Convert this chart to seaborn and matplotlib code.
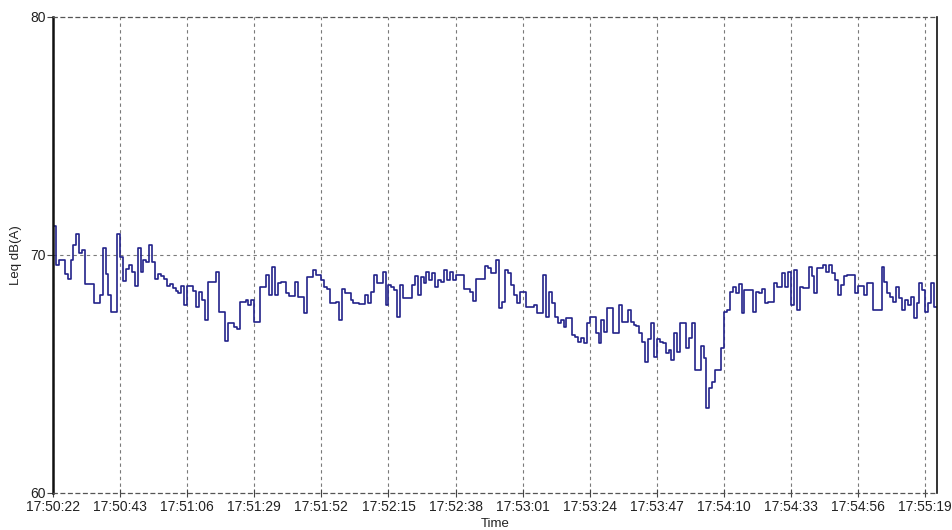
import numpy as np
import pandas as pd
import matplotlib
matplotlib.use("Agg")
import matplotlib.pyplot as plt
import seaborn as sns

# Logged Leq levels as steps: level in dB(A) and how many 1-second samples it holds
level_db = [
    71.2, 69.6, 69.8, 69.2, 69.0, 69.8, 70.4, 70.9, 70.1, 70.2, 68.8, 68.0, 68.3, 70.3,
    69.2, 68.3, 67.6, 70.9, 69.9, 68.9, 69.4, 69.6, 69.3, 68.7, 70.3, 69.3, 69.8, 69.7,
    70.4, 69.7, 69.0, 69.2, 69.1, 69.0, 68.7, 68.8, 68.6, 68.5, 68.4, 68.7, 67.9, 68.7,
    68.5, 67.8,
    68.46, 68.11, 67.27, 68.88, 69.27, 67.62, 66.39, 67.16, 66.96, 66.88, 68.04, 68.11,
    67.9, 68.11, 67.2, 68.67, 69.16, 68.32, 69.51, 68.32, 68.84, 68.88, 68.42, 68.28,
    68.88, 68.25, 67.58, 69.09, 69.37, 69.16, 68.95, 68.67, 68.56, 67.97, 68.04, 67.27,
    68.56, 68.42, 68.11, 67.97, 67.93, 68.32, 67.97, 68.46, 69.16, 68.81, 69.3, 67.9,
    68.74, 68.67, 68.53, 67.41, 68.74, 68.18, 68.74, 69.12, 68.32, 69.09, 68.81, 69.27,
    68.95, 69.23, 68.67, 68.95, 68.88, 69.37, 68.95, 69.3, 68.95, 69.16, 68.56, 68.46,
    68.08, 68.98, 69.54,
    69.44, 69.23, 69.79, 67.76, 68.04, 69.37, 69.23, 68.74, 68.32, 67.97, 68.46, 67.83,
    67.9, 67.55, 69.16, 67.41, 68.46, 67.97, 67.41, 67.13, 67.27, 66.99, 67.37, 66.64,
    66.57, 66.36, 66.5, 66.29, 67.13, 67.38, 66.71, 66.29, 67.27, 66.78, 67.76, 66.71,
    67.9, 67.2, 67.69, 67.2,
    67.06, 67.02, 66.71, 66.36, 65.52, 66.46, 67.13, 65.7, 66.46, 66.36, 66.29, 65.87,
    66.01, 65.59, 66.71, 65.94, 67.13, 66.08, 66.5, 67.16, 65.17, 66.18, 65.66, 63.56,
    64.4, 64.68, 65.17, 66.08,
    67.62, 67.69, 68.46, 68.67, 68.39, 68.77, 67.55, 68.53, 67.62, 68.46, 68.39, 68.56,
    67.97, 68.04, 68.81, 68.67, 69.23, 68.67, 69.3, 67.9, 69.37, 67.69, 68.67, 68.6,
    69.51, 69.1, 68.39, 69.44,
    69.44, 69.58, 69.3, 69.58, 69.23, 68.95, 68.32, 68.74, 69.12, 69.16, 68.39, 68.7,
    68.32, 68.81, 67.69, 69.51, 68.88, 68.39, 68.25, 68.04, 68.67, 68.18, 67.69, 68.11,
    67.9, 68.25, 67.34, 67.97, 68.81, 68.53, 67.62, 67.97, 68.81, 67.83,
]
run_seconds = [
    1, 1, 2, 1, 1, 1, 1, 1, 1, 1, 3, 2, 1, 1,
    1, 1, 2, 1, 1, 1, 1, 1, 1, 1, 1, 1, 1, 1,
    1, 1, 1, 1, 1, 1, 1, 1, 1, 1, 1, 1, 1, 2,
    1, 1,
    1, 1, 1, 3, 1, 2, 1, 2, 1, 1, 2, 1,
    1, 1, 2, 2, 1, 1, 1, 1, 1, 2, 1, 2,
    1, 2, 1, 2, 1, 2, 1, 1, 1, 2, 1, 1,
    1, 2, 1, 2, 2, 1, 1, 1, 1, 2, 1, 1,
    1, 1, 1, 1, 1, 3, 1, 1, 1, 1, 1, 1,
    1, 1, 1, 1, 1, 1, 1, 1, 1, 3, 2, 1,
    1, 3, 1,
    1, 2, 1, 1, 1, 1, 1, 1, 1, 1, 2, 3,
    1, 2, 1, 1, 1, 1, 1, 1, 1, 1, 2, 1,
    1, 1, 1, 1, 1, 2, 1, 1, 1, 1, 2, 2,
    1, 2, 1, 1,
    1, 1, 1, 1, 1, 1, 1, 1, 1, 1, 1, 1,
    1, 1, 1, 1, 2, 1, 1, 1, 2, 1, 1, 1,
    1, 1, 2, 1,
    1, 1, 1, 1, 1, 1, 1, 3, 1, 1, 1, 1,
    1, 2, 1, 2, 1, 1, 1, 1, 1, 1, 1, 2,
    1, 1, 1, 1,
    1, 1, 1, 1, 1, 1, 1, 1, 1, 3, 1, 2,
    1, 2, 3, 1, 1, 1, 1, 1, 1, 1, 1, 1,
    1, 1, 1, 1, 1, 1, 1, 1, 1, 2,
]

time_labels = [
    "17:50:22", "17:50:43", "17:51:06", "17:51:29", "17:51:52", "17:52:15", "17:52:38",
    "17:53:01", "17:53:24", "17:53:47", "17:54:10", "17:54:33", "17:54:56", "17:55:19",
]
tick_step_s = 23
y_ticks = [60, 70, 80]

sns.set_theme(style="white")
plt.rcParams["font.family"] = ["Liberation Sans", "DejaVu Sans"]

# expand the runs into one reading per second; repeat the last level so the final step has width
levels = np.repeat(level_db, run_seconds)
levels = np.append(levels, levels[-1])
df = pd.DataFrame({"Time": np.arange(len(levels)), "Leq": levels})

W, H = 953, 530
fig = plt.figure(figsize=(W / 100, H / 100), dpi=100)
left, right, top, bottom = 53, 937, 17, 493
ax = fig.add_axes([left / W, 1 - bottom / H, (right - left) / W, (bottom - top) / H])

sns.lineplot(data=df, x="Time", y="Leq", drawstyle="steps-post",
             color="#22228a", linewidth=1.2, ax=ax)

xticks = np.arange(len(time_labels)) * tick_step_s
span_s = xticks[-1] + tick_step_s * (right - (left + 67.1 * 13)) / 67.1
ax.set_xlim(0, span_s)
ax.set_ylim(y_ticks[0], y_ticks[-1])
ax.set_xticks(xticks)
ax.set_xticklabels(time_labels)
ax.set_yticks(y_ticks)

dash = (0, (3, 3))
grid_col = "#7a7a7a"
ax.grid(True, axis="x", linestyle=dash, color=grid_col, linewidth=0.8)
ax.axhline(70, linestyle=dash, color=grid_col, linewidth=0.8, zorder=0)

for side in ("top", "bottom"):
    ax.spines[side].set_linestyle(dash)
    ax.spines[side].set_color("#555555")
    ax.spines[side].set_linewidth(0.9)
ax.spines["left"].set_color("#111111")
ax.spines["left"].set_linewidth(1.8)
ax.spines["right"].set_color("#111111")
ax.spines["right"].set_linewidth(1.2)

ax.tick_params(axis="x", direction="inout", length=6, width=0.8, color="#444444",
               labelsize=10, labelcolor="#222222", pad=2, bottom=True)
ax.tick_params(axis="y", direction="out", length=4, width=0.8, color="#444444",
               labelsize=10, labelcolor="#222222", pad=1, left=True)

ax.set_xlabel("Time", fontsize=9.5, color="#222222")
ax.set_ylabel("Leq dB(A)", fontsize=9.5, color="#222222")
ax.xaxis.set_label_coords(0.5, (bottom - 518) / (bottom - top))
ax.yaxis.set_label_coords((22 - left) / (right - left), 0.5)

fig.savefig("out.png", dpi=100, facecolor="white")
